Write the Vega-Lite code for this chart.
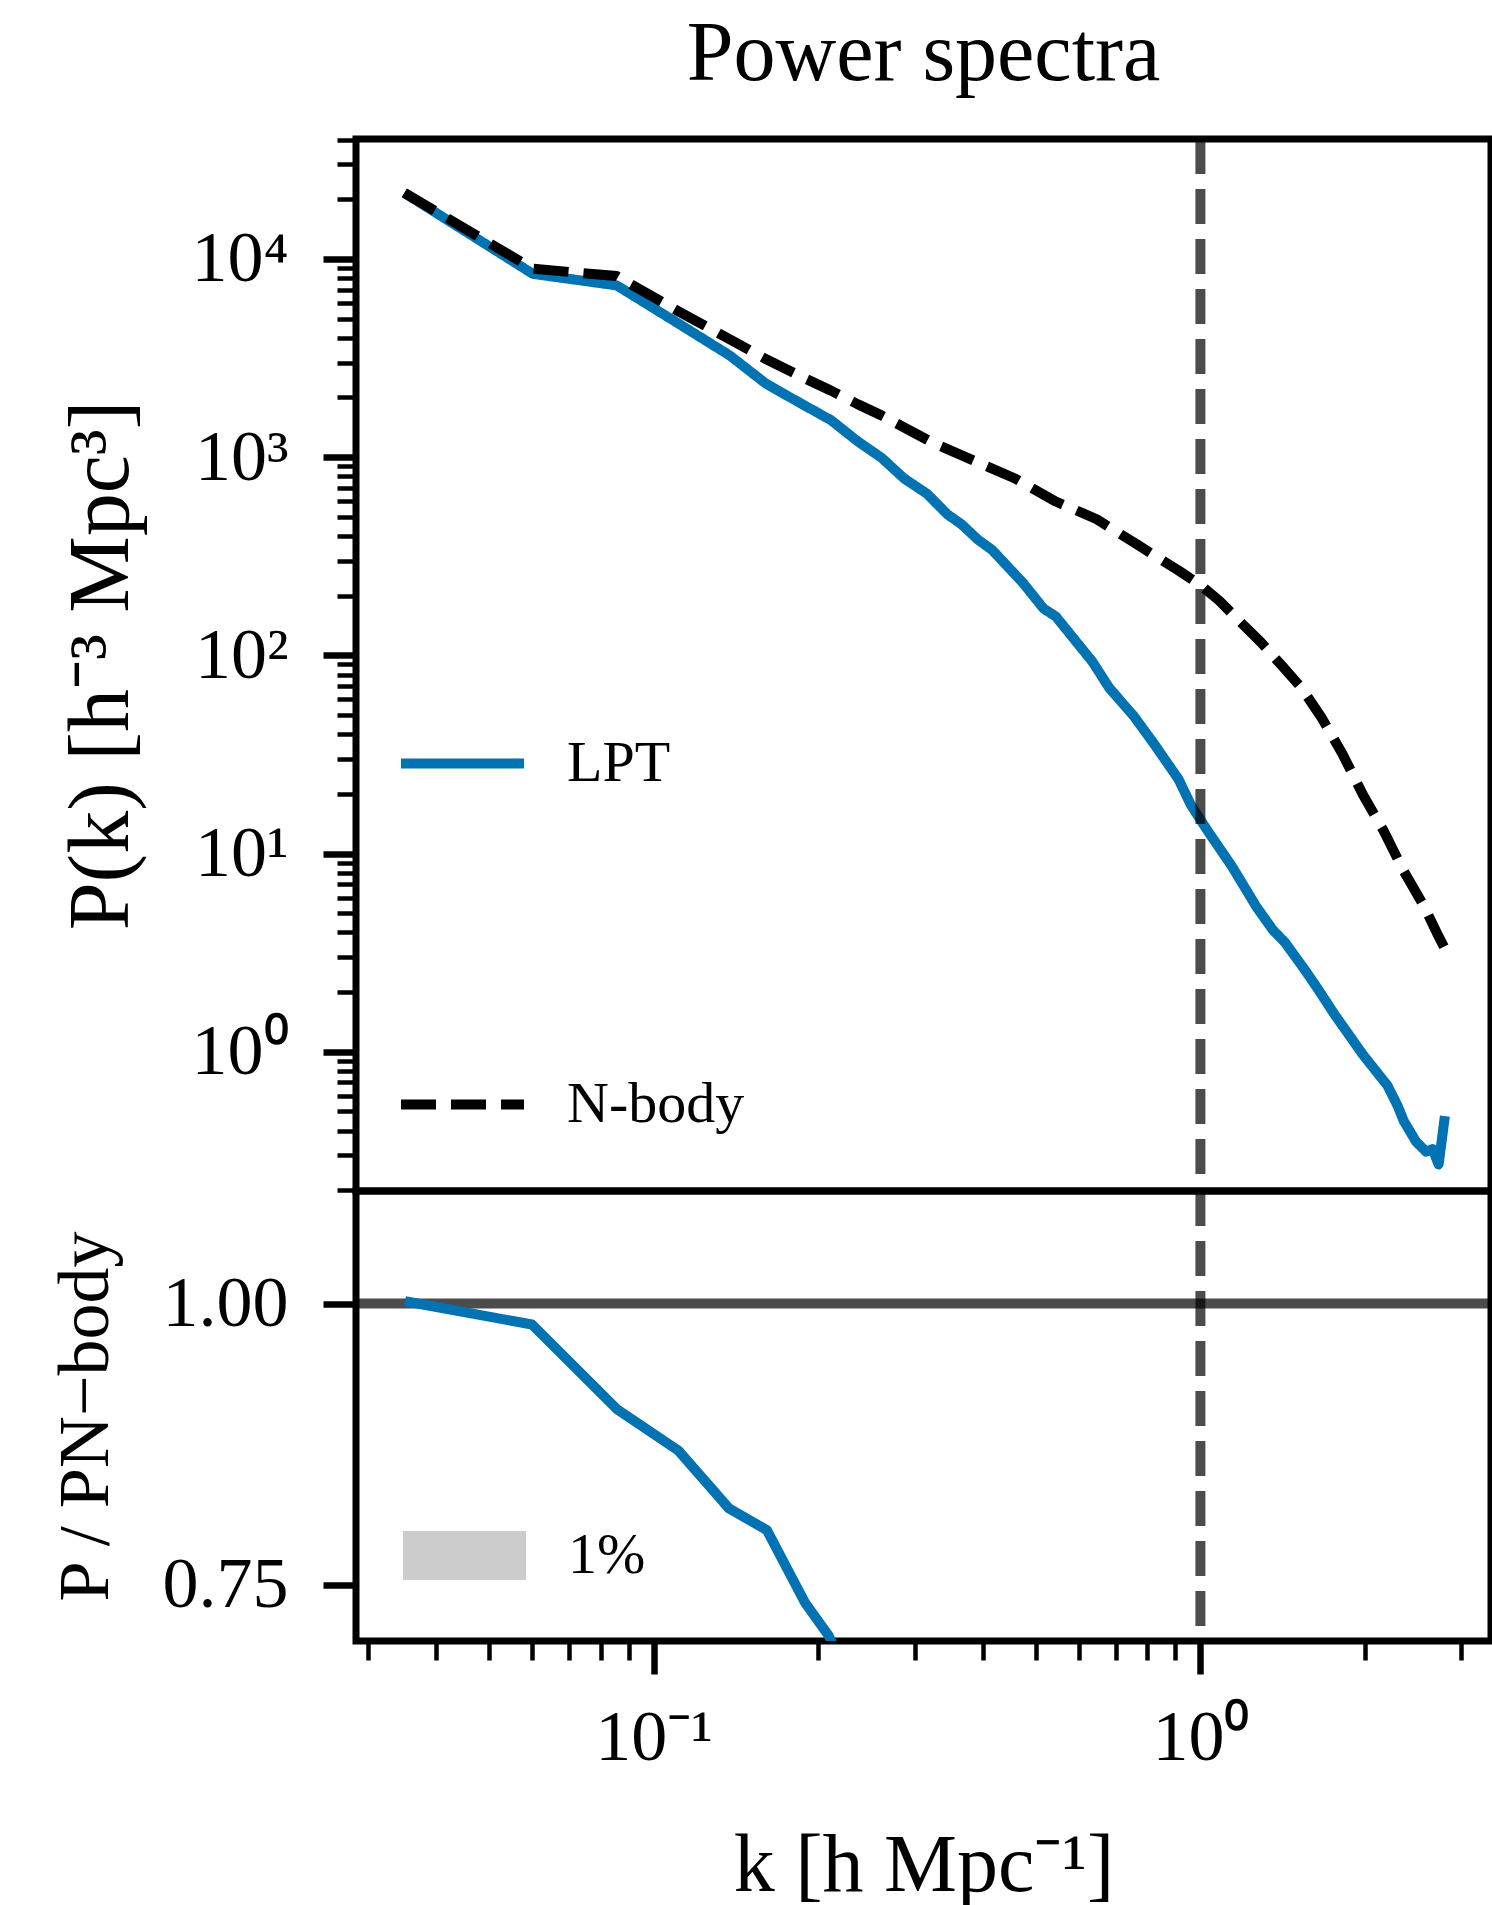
{
  "$schema": "https://vega.github.io/schema/vega-lite/v6.json",
  "background": "white",
  "padding": {"left": 45, "top": 9, "right": 0, "bottom": 0},
  "spacing": 0,
  "bounds": "flush",
  "config": {
    "view": {"stroke": "black", "strokeWidth": 7},
    "font": "Liberation Serif",
    "axis": {"domain": false, "grid": false, "labelFont": "Liberation Serif", "titleFont": "Liberation Serif", "labelColor": "black", "titleColor": "black", "tickColor": "black", "titleFontWeight": "normal", "labelFontSize": 72, "labelOverlap": false, "labelFlush": false, "labelBound": false},
    "legend": {"labelFont": "Liberation Serif", "labelColor": "black", "labelLimit": 0}
  },
  "datasets": {
    "power": [
      {"k": 0.0350, "P": 21540, "model": "LPT"},
      {"k": 0.0601, "P": 8410, "model": "LPT"},
      {"k": 0.0856, "P": 7350, "model": "LPT"},
      {"k": 0.1110, "P": 4720, "model": "LPT"},
      {"k": 0.1377, "P": 3260, "model": "LPT"},
      {"k": 0.1606, "P": 2345, "model": "LPT"},
      {"k": 0.1850, "P": 1880, "model": "LPT"},
      {"k": 0.2111, "P": 1535, "model": "LPT"},
      {"k": 0.2363, "P": 1200, "model": "LPT"},
      {"k": 0.2614, "P": 990, "model": "LPT"},
      {"k": 0.2872, "P": 780, "model": "LPT"},
      {"k": 0.3163, "P": 653, "model": "LPT"},
      {"k": 0.3444, "P": 515, "model": "LPT"},
      {"k": 0.3658, "P": 458, "model": "LPT"},
      {"k": 0.3920, "P": 383, "model": "LPT"},
      {"k": 0.4161, "P": 340, "model": "LPT"},
      {"k": 0.4737, "P": 232, "model": "LPT"},
      {"k": 0.5168, "P": 172, "model": "LPT"},
      {"k": 0.5440, "P": 157, "model": "LPT"},
      {"k": 0.5930, "P": 117, "model": "LPT"},
      {"k": 0.6353, "P": 92.5, "model": "LPT"},
      {"k": 0.6806, "P": 68.7, "model": "LPT"},
      {"k": 0.7548, "P": 49.5, "model": "LPT"},
      {"k": 0.8224, "P": 35.8, "model": "LPT"},
      {"k": 0.9120, "P": 23.7, "model": "LPT"},
      {"k": 0.9607, "P": 17.6, "model": "LPT"},
      {"k": 1.0294, "P": 13.1, "model": "LPT"},
      {"k": 1.1413, "P": 8.64, "model": "LPT"},
      {"k": 1.2664, "P": 5.38, "model": "LPT"},
      {"k": 1.3565, "P": 4.12, "model": "LPT"},
      {"k": 1.428, "P": 3.56, "model": "LPT"},
      {"k": 1.557, "P": 2.56, "model": "LPT"},
      {"k": 1.639, "P": 2.08, "model": "LPT"},
      {"k": 1.757, "P": 1.55, "model": "LPT"},
      {"k": 1.983, "P": 0.966, "model": "LPT"},
      {"k": 2.198, "P": 0.676, "model": "LPT"},
      {"k": 2.295, "P": 0.533, "model": "LPT"},
      {"k": 2.355, "P": 0.447, "model": "LPT"},
      {"k": 2.480, "P": 0.352, "model": "LPT"},
      {"k": 2.588, "P": 0.313, "model": "LPT"},
      {"k": 2.658, "P": 0.323, "model": "LPT"},
      {"k": 2.727, "P": 0.270, "model": "LPT"},
      {"k": 2.800, "P": 0.474, "model": "LPT"},
      {"k": 0.0350, "P": 21540, "model": "N-body"},
      {"k": 0.0601, "P": 8920, "model": "N-body"},
      {"k": 0.0856, "P": 8190, "model": "N-body"},
      {"k": 0.111, "P": 5440, "model": "N-body"},
      {"k": 0.136, "P": 4006, "model": "N-body"},
      {"k": 0.161, "P": 3105, "model": "N-body"},
      {"k": 0.186, "P": 2550, "model": "N-body"},
      {"k": 0.211, "P": 2165, "model": "N-body"},
      {"k": 0.236, "P": 1851, "model": "N-body"},
      {"k": 0.261, "P": 1624, "model": "N-body"},
      {"k": 0.3242, "P": 1181, "model": "N-body"},
      {"k": 0.3855, "P": 959, "model": "N-body"},
      {"k": 0.4580, "P": 780, "model": "N-body"},
      {"k": 0.5440, "P": 597, "model": "N-body"},
      {"k": 0.6462, "P": 486, "model": "N-body"},
      {"k": 0.7676, "P": 361, "model": "N-body"},
      {"k": 0.912, "P": 268, "model": "N-body"},
      {"k": 1.003, "P": 225, "model": "N-body"},
      {"k": 1.084, "P": 188, "model": "N-body"},
      {"k": 1.181, "P": 148, "model": "N-body"},
      {"k": 1.288, "P": 117, "model": "N-body"},
      {"k": 1.404, "P": 89.7, "model": "N-body"},
      {"k": 1.530, "P": 68.7, "model": "N-body"},
      {"k": 1.668, "P": 48.2, "model": "N-body"},
      {"k": 1.819, "P": 31.8, "model": "N-body"},
      {"k": 1.983, "P": 19.8, "model": "N-body"},
      {"k": 2.161, "P": 13.1, "model": "N-body"},
      {"k": 2.355, "P": 8.14, "model": "N-body"},
      {"k": 2.568, "P": 5.38, "model": "N-body"},
      {"k": 2.704, "P": 4.0, "model": "N-body"},
      {"k": 2.800, "P": 3.31, "model": "N-body"}
    ],
    "ratio": [
      {"k": 0.0351, "r": 1.002},
      {"k": 0.0599, "r": 0.9813},
      {"k": 0.0859, "r": 0.9056},
      {"k": 0.1110, "r": 0.8692},
      {"k": 0.1373, "r": 0.8179},
      {"k": 0.1611, "r": 0.7986},
      {"k": 0.1890, "r": 0.7344},
      {"k": 0.2091, "r": 0.7045},
      {"k": 0.236, "r": 0.648}
    ],
    "band": [
      {"label": "1%", "k0": 0.035, "k1": 2.8, "lo": 0.99, "hi": 1.01}
    ],
    "vline": [{"k": 1}],
    "hline": [{"r": 1}]
  },
  "vconcat": [
    {
      "width": 1135,
      "height": 1052,
      "title": {"text": "Power spectra", "fontSize": 84, "font": "Liberation Serif", "fontWeight": "normal", "color": "black", "anchor": "middle", "frame": "group", "baseline": "alphabetic", "offset": -30},
      "layer": [
        {
          "data": {"name": "power"},
          "mark": {"type": "line", "strokeWidth": 10, "clip": true, "strokeJoin": "round"},
          "encoding": {
            "x": {"field": "k", "type": "quantitative", "scale": {"type": "log", "domain": [0.02855, 3.40], "nice": false}, "axis": null},
            "y": {"field": "P", "type": "quantitative", "scale": {"type": "log", "domain": [0.1984, 40270], "nice": false},
              "axis": {
                "title": "P(k) [h⁻³ Mpc³]",
                "titleFontSize": 86,
                "titlePadding": 45,
                "values": [0.2,0.3,0.4,0.5,0.6,0.7,0.8,0.9,1,2,3,4,5,6,7,8,9,10,20,30,40,50,60,70,80,90,100,200,300,400,500,600,700,800,900,1000,2000,3000,4000,5000,6000,7000,8000,9000,10000,20000,30000,40000],
                "labelExpr": "datum.value == 1 ? '10⁰' : datum.value == 10 ? '10¹' : datum.value == 100 ? '10²' : datum.value == 1000 ? '10³' : datum.value == 10000 ? '10⁴' : ''",
                "labelFontSize": {"condition": {"test": "indexof([1,10,100,1000,10000], datum.value) >= 0", "value": 72}, "value": 0},
                "tickSize": {"condition": {"test": "indexof([1,10,100,1000,10000], datum.value) >= 0", "value": 33}, "value": 19},
                "tickWidth": {"condition": {"test": "indexof([1,10,100,1000,10000], datum.value) >= 0", "value": 6.5}, "value": 4.5},
                "labelPadding": 35,
                "labelBaseline": "middle"
              }
            },
            "color": {"field": "model", "type": "nominal", "scale": {"domain": ["LPT", "N-body"], "range": ["#0173b2", "#000000"]},
              "legend": {"orient": "none", "legendX": 40, "legendY": 558, "title": null, "padding": 0, "rowPadding": 245, "symbolType": "stroke", "symbolSize": 15129, "symbolStrokeWidth": 10, "labelFontSize": 58, "labelOffset": 38}},
            "strokeDash": {"field": "model", "type": "nominal", "scale": {"domain": ["LPT", "N-body"], "range": [[1, 0], [35, 15]]},
              "legend": {"orient": "none", "legendX": 40, "legendY": 558, "title": null, "padding": 0, "rowPadding": 245, "symbolType": "stroke", "symbolSize": 15129, "symbolStrokeWidth": 10, "labelFontSize": 58, "labelOffset": 38}}
          }
        },
        {
          "data": {"name": "vline"},
          "mark": {"type": "rule", "color": "black", "opacity": 0.7, "strokeWidth": 10, "strokeDash": [35, 15]},
          "encoding": {
            "x": {"field": "k", "type": "quantitative", "axis": null}
          }
        }
      ]
    },
    {
      "width": 1135,
      "height": 450,
      "layer": [
        {
          "data": {"name": "hline"},
          "mark": {"type": "rule", "color": "black", "opacity": 0.7, "strokeWidth": 10},
          "encoding": {
            "y": {"field": "r", "type": "quantitative"}
          }
        },
        {
          "data": {"name": "band"},
          "mark": {"type": "rect", "opacity": 0},
          "encoding": {
            "x": {"field": "k0", "type": "quantitative"},
            "x2": {"field": "k1"},
            "y": {"field": "lo", "type": "quantitative"},
            "y2": {"field": "hi"},
            "fill": {"field": "label", "type": "nominal", "scale": {"domain": ["1%"], "range": ["#cccccc"]},
              "legend": {"orient": "none", "legendX": 47, "legendY": 1355, "title": null, "padding": 0, "symbolType": "M-1,-0.4H1V0.4H-1Z", "symbolSize": 15129, "symbolStrokeWidth": 0, "symbolOpacity": 1, "labelFontSize": 58, "labelOffset": 42}}
          }
        },
        {
          "data": {"name": "ratio"},
          "mark": {"type": "line", "color": "#0173b2", "strokeWidth": 10, "clip": true, "strokeJoin": "round"},
          "encoding": {
            "x": {"field": "k", "type": "quantitative", "scale": {"type": "log", "domain": [0.02855, 3.40], "nice": false},
              "axis": {
                "title": "k [h Mpc⁻¹]",
                "titleFontSize": 82,
                "titlePadding": 52,
                "values": [0.03,0.04,0.05,0.06,0.07,0.08,0.09,0.1,0.2,0.3,0.4,0.5,0.6,0.7,0.8,0.9,1,2,3],
                "labelExpr": "datum.value == 0.1 ? '10⁻¹' : datum.value == 1 ? '10⁰' : ''",
                "labelFontSize": {"condition": {"test": "datum.value == 0.1 || datum.value == 1", "value": 72}, "value": 0},
                "tickSize": {"condition": {"test": "datum.value == 0.1 || datum.value == 1", "value": 33}, "value": 19},
                "tickWidth": {"condition": {"test": "datum.value == 0.1 || datum.value == 1", "value": 6.5}, "value": 4.5},
                "labelPadding": 28
              }
            },
            "y": {"field": "r", "type": "quantitative", "scale": {"domain": [0.70, 1.10], "nice": false, "zero": false},
              "axis": {
                "title": "P / PN−body",
                "titleFontSize": 72,
                "titlePadding": 40,
                "values": [0.75, 1.0],
                "format": ".2f",
                "tickSize": 33,
                "tickWidth": 6.5,
                "labelPadding": 35,
                "labelBaseline": "middle"
              }
            }
          }
        },
        {
          "data": {"name": "vline"},
          "mark": {"type": "rule", "color": "black", "opacity": 0.7, "strokeWidth": 10, "strokeDash": [35, 15]},
          "encoding": {
            "x": {"field": "k", "type": "quantitative"}
          }
        }
      ]
    }
  ]
}
